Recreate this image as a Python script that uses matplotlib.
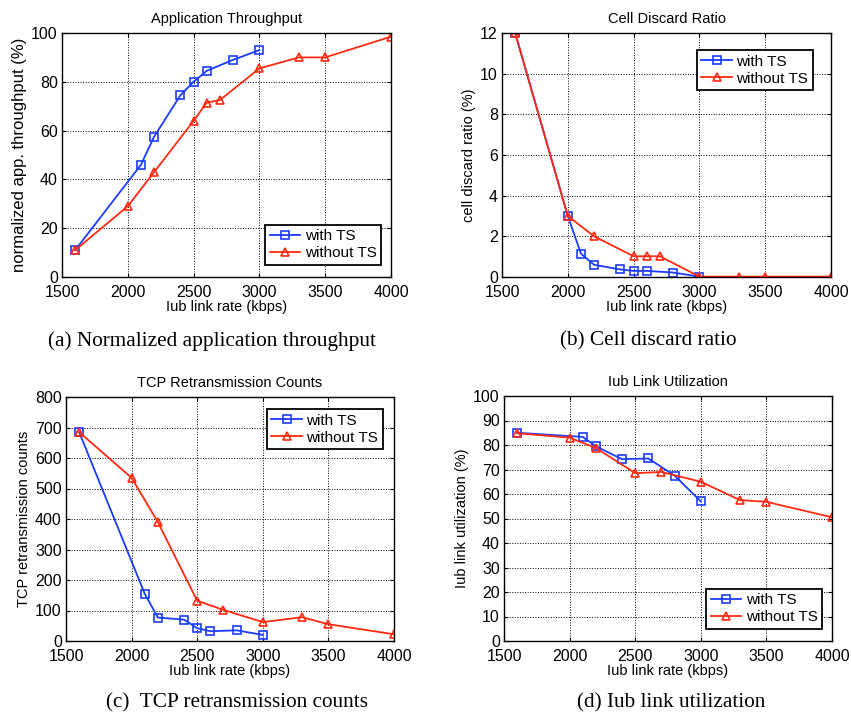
import matplotlib.pyplot as plt

# link rates (kbps)
x_with_a = [1600, 2100, 2200, 2400, 2500, 2600, 2800, 3000]
y_with_a = [11, 46, 57.5, 74.5, 80, 84.5, 89, 93]
x_wo_a = [1600, 2000, 2200, 2500, 2600, 2700, 3000, 3300, 3500, 4000]
y_wo_a = [11, 29, 43, 64, 71.5, 72.5, 85.5, 90, 90, 98.5]

x_with_b = [1600, 2000, 2100, 2200, 2400, 2500, 2600, 2800, 3000]
y_with_b = [12, 3, 1.15, 0.6, 0.37, 0.3, 0.3, 0.22, 0.02]
x_wo_b = [1600, 2000, 2200, 2500, 2600, 2700, 3000, 3300, 3500, 4000]
y_wo_b = [12, 3, 2, 1.02, 1.02, 1.02, 0.02, 0.02, 0.02, 0.02]

x_with_c = [1600, 2100, 2200, 2400, 2500, 2600, 2800, 3000]
y_with_c = [685, 155, 77, 70, 42, 32, 35, 20]
x_wo_c = [1600, 2000, 2200, 2500, 2700, 3000, 3300, 3500, 4000]
y_wo_c = [685, 535, 390, 132, 102, 62, 78, 55, 22]

x_with_d = [1600, 2100, 2200, 2400, 2600, 2800, 3000]
y_with_d = [85, 83.3, 79.5, 74.2, 74.5, 67.5, 57]
x_wo_d = [1600, 2000, 2200, 2500, 2700, 3000, 3300, 3500, 4000]
y_wo_d = [84.8, 83, 78.8, 68.5, 69, 65, 57.5, 56.8, 50.5]

BLUE = '#1a3cff'
RED = '#ff2a10'
W, H = 851, 716

plt.rcParams['font.family'] = ['Liberation Sans', 'DejaVu Sans']

fig = plt.figure(figsize=(W / 100, H / 100), dpi=100)


def make_ax(l, t, r, b):
  return fig.add_axes([l / W, 1 - b / H, (r - l) / W, (b - t) / H])


def panel(ax, xw, yw, xo, yo, title, ylabel, ylim, yticks, leg_loc, leg_anchor, ylsize=10.5):
  ax.plot(xw, yw, '-s', color=BLUE, mfc='none', mec=BLUE, ms=5.2, mew=1.2, lw=1.3, label='with TS')
  ax.plot(xo, yo, '-^', color=RED, mfc='none', mec=RED, ms=6.2, mew=1.2, lw=1.3, label='without TS')
  ax.set_xlim(1500, 4000)
  ax.set_ylim(*ylim)
  ax.set_xticks([1500, 2000, 2500, 3000, 3500, 4000])
  ax.set_yticks(yticks)
  ax.grid(True, color='black', linestyle=':', linewidth=0.7)
  ax.tick_params(direction='in', top=True, right=True, labelsize=11.5, length=3)
  ax.tick_params(axis='x', pad=6)
  ax.tick_params(axis='y', pad=3)
  for s in ax.spines.values():
    s.set_linewidth(1.0)
  ax.set_title(title, fontsize=10.5, pad=7)
  ax.set_ylabel(ylabel, fontsize=ylsize, labelpad=3)
  ax.set_xlabel('Iub link rate (kbps)', fontsize=10.5, labelpad=0)
  leg = ax.legend(loc=leg_loc, bbox_to_anchor=leg_anchor, borderaxespad=0, fontsize=11,
                  fancybox=False, framealpha=1, edgecolor='black', handlelength=2.0,
                  handletextpad=0.3, borderpad=0.3, labelspacing=0.2)
  leg.get_frame().set_linewidth(1.3)


ax_a = make_ax(62, 33, 391, 277)
panel(ax_a, x_with_a, y_with_a, x_wo_a, y_wo_a, 'Application Throughput',
      'normalized app. throughput (%)', (0, 100), range(0, 101, 20),
      'lower right', (0.97, 0.049), ylsize=12)

ax_b = make_ax(502, 33, 831, 277)
panel(ax_b, x_with_b, y_with_b, x_wo_b, y_wo_b, 'Cell Discard Ratio',
      'cell discard ratio (%)', (0, 12), range(0, 13, 2),
      'upper right', (0.945, 0.93))

ax_c = make_ax(66, 397, 394, 641)
panel(ax_c, x_with_c, y_with_c, x_wo_c, y_wo_c, 'TCP Retransmission Counts',
      'TCP retransmission counts', (0, 800), range(0, 801, 100),
      'upper right', (0.966, 0.951))

ax_d = make_ax(504, 396, 832, 641)
panel(ax_d, x_with_d, y_with_d, x_wo_d, y_wo_d, 'Iub Link Utilization',
      'Iub link utilization (%)', (0, 100), range(0, 101, 10),
      'lower right', (0.97, 0.049))

captions = [
  (212, 341, '(a) Normalized application throughput'),
  (648, 341, '(b) Cell discard ratio'),
  (237, 703, '(c)  TCP retransmission counts'),
  (671, 703, '(d) Iub link utilization'),
]
for cx, cy, txt in captions:
  fig.text(cx / W, 1 - cy / H, txt, ha='center', va='center', fontsize=15.3,
           family=['Liberation Serif', 'DejaVu Serif'])

fig.savefig('out.png', dpi=100)
